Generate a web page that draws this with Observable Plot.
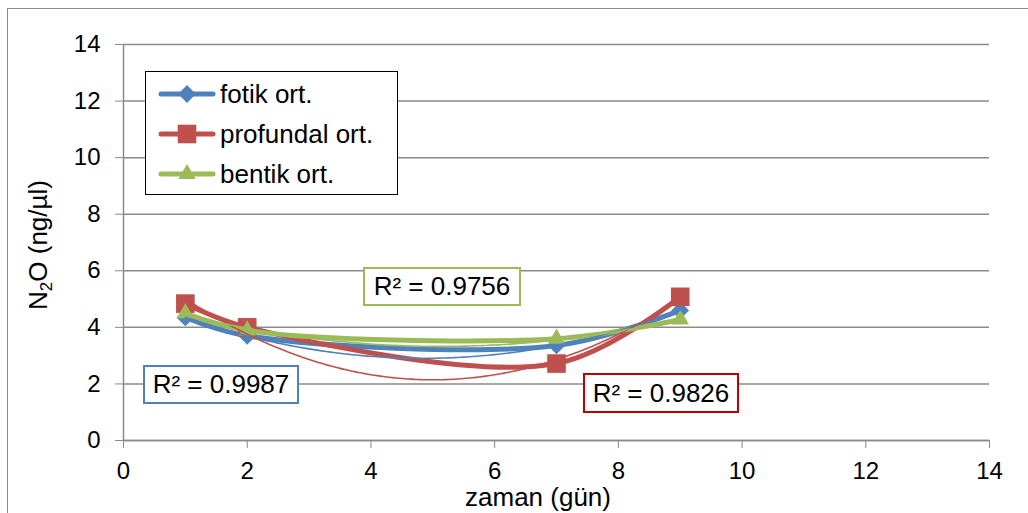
<!DOCTYPE html>
<html><head><meta charset="utf-8">
<script src="https://cdn.jsdelivr.net/npm/d3@7"></script>
<script src="https://cdn.jsdelivr.net/npm/@observablehq/plot@0.6"></script>
<style>
body{margin:0;background:#fff;font-family:"Liberation Sans",Arial,sans-serif;}
#wrap{position:relative;width:1028px;height:513px;overflow:hidden;background:#fff;}
#frame{position:absolute;left:7px;top:8px;width:1030px;height:520px;border:1.5px solid #8c8c8c;box-sizing:border-box;}
.ov{position:absolute;font-family:"Liberation Sans",Arial,sans-serif;color:#000;}
.rbox{position:absolute;background:#fff;box-sizing:border-box;border:2px solid;font-size:26px;display:flex;align-items:center;justify-content:center;}
#legend{position:absolute;left:145px;top:71px;width:253px;height:124px;border:1.5px solid #000;background:#fff;box-sizing:border-box;}
.lrow{position:absolute;left:12px;height:40px;display:flex;align-items:center;font-size:26px;}
</style></head>
<body><div id="wrap"><div id="frame"></div></div>
<script>
// ---- data ----
const days = [1, 2, 7, 9];
const fotik = [4.35, 3.7, 3.36, 4.6];
const profundal = [4.84, 4.0, 2.72, 5.08];
const bentik = [4.5, 3.89, 3.6, 4.28];
const seriesNames = ["fotik ort.", "profundal ort.", "bentik ort."];
const seriesColors = ["#4F81BD", "#C0504D", "#9BBB59"];
const seriesSymbols = ["diamond2", "square", "triangle"];
const symbolR = [8, 10.5, 6.5];
const r2Labels = ["R² = 0.9987", "R² = 0.9826", "R² = 0.9756"];
const r2Border = ["#4F81BD", "#C00000", "#9BBB59"];
const xTicks = [0, 2, 4, 6, 8, 10, 12, 14];
const yTicks = [0, 2, 4, 6, 8, 10, 12, 14];
const xTitle = "zaman (gün)";

const allSeries = [fotik, profundal, bentik];
const rows = [];
allSeries.forEach((vals, i) => days.forEach((d, j) => rows.push({s: seriesNames[i], x: d, y: vals[j]})));

// quadratic least squares trendline (Excel polynomial order 2)
function quadFit(xs, ys) {
  let S = [0,0,0,0,0], T = [0,0,0];
  xs.forEach((x, i) => { for (let k = 0; k < 5; k++) S[k] += x ** k; for (let k = 0; k < 3; k++) T[k] += ys[i] * x ** k; });
  const A = [[S[0],S[1],S[2],T[0]],[S[1],S[2],S[3],T[1]],[S[2],S[3],S[4],T[2]]];
  for (let c = 0; c < 3; c++) {
    for (let r = c + 1; r < 3; r++) { const f = A[r][c] / A[c][c]; for (let k = c; k < 4; k++) A[r][k] -= f * A[c][k]; }
  }
  const b = [0,0,0];
  for (let r = 2; r >= 0; r--) { let s = A[r][3]; for (let k = r + 1; k < 3; k++) s -= A[r][k] * b[k]; b[r] = s / A[r][r]; }
  return b;
}
const trend = [];
allSeries.forEach((vals, i) => {
  const b = quadFit(days, vals);
  const x0 = d3.min(days), x1 = d3.max(days);
  d3.range(x0, x1 + 0.001, 0.05).forEach(x => trend.push({s: seriesNames[i], x, y: b[0] + b[1]*x + b[2]*x*x}));
});

const marks = [
  Plot.gridY(yTicks, {stroke: "#8a8a8a", strokeOpacity: 1, strokeWidth: 1.5}),
  Plot.ruleX([0], {stroke: "#8a8a8a", strokeWidth: 1.5}),
  Plot.ruleY([0], {stroke: "#8a8a8a", strokeWidth: 1.5}),
  Plot.axisX({ticks: xTicks, tickSize: 8, tickPadding: 13, stroke: "#8a8a8a", fontSize: 24, label: null, tickFormat: d => d}),
  Plot.axisY({ticks: yTicks, tickSize: 8, tickPadding: 15, stroke: "#8a8a8a", fontSize: 24, label: null, tickFormat: d => d})
];
seriesNames.forEach((name, i) => {
  const data = rows.filter(r => r.s === name);
  marks.push(Plot.line(data, {x: "x", y: "y", stroke: seriesColors[i], strokeWidth: 5, curve: "catmull-rom"}));
  marks.push(Plot.dot(data, {x: "x", y: "y", fill: seriesColors[i], stroke: "none", symbol: seriesSymbols[i], r: symbolR[i]}));
});
seriesNames.forEach((name, i) => {
  marks.push(Plot.line(trend.filter(r => r.s === name), {x: "x", y: "y", stroke: seriesColors[i], strokeWidth: 1.6}));
});

const chart = Plot.plot({
  width: 1028, height: 513,
  marginLeft: 123, marginRight: 39, marginTop: 44, marginBottom: 73,
  x: {domain: [0, 14]},
  y: {domain: [0, 14]},
  style: {fontFamily: "'Liberation Sans', Arial, sans-serif", color: "#000", background: "transparent", overflow: "visible"},
  marks
});
chart.style.position = "absolute"; chart.style.left = "0px"; chart.style.top = "0px";
const wrap = document.getElementById("wrap");
wrap.appendChild(chart);
chart.querySelectorAll("text").forEach(t => t.setAttribute("fill", "#000"));

// axis titles
const xt = document.createElement("div");
xt.className = "ov"; xt.textContent = xTitle;
Object.assign(xt.style, {left: "538px", top: "497px", transform: "translate(-50%,-50%)", fontSize: "26px", whiteSpace: "nowrap"});
wrap.appendChild(xt);
const yt = document.createElement("div");
yt.className = "ov"; yt.innerHTML = 'N<sub style="font-size:17px;vertical-align:-5px">2</sub>O (ng/µl)';
Object.assign(yt.style, {left: "42px", top: "245px", transform: "translate(-50%,-50%) rotate(-90deg)", fontSize: "26px", whiteSpace: "nowrap", lineHeight: "26px"});
wrap.appendChild(yt);

// R² boxes
const r2Pos = [{l:143,t:365,w:156,h:39},{l:583,t:373,w:156,h:40},{l:363,t:267,w:158,h:39}];
r2Labels.forEach((lab, i) => {
  const b = document.createElement("div");
  b.className = "rbox ov"; b.textContent = lab;
  Object.assign(b.style, {left: r2Pos[i].l+"px", top: r2Pos[i].t+"px", width: r2Pos[i].w+"px", height: r2Pos[i].h+"px", borderColor: r2Border[i]});
  wrap.appendChild(b);
});

// legend
const leg = document.createElement("div");
leg.id = "legend";
const symPaths = seriesSymbols.map((s, i) => {
  const t = {diamond2: d3.symbolDiamond2, square: d3.symbolSquare, triangle: d3.symbolTriangle}[s];
  return d3.symbol(t, Math.PI * symbolR[i] ** 2)();
});
seriesNames.forEach((name, i) => {
  const row = document.createElement("div");
  row.className = "lrow";
  row.style.top = (2 + i * 40) + "px";
  row.innerHTML = `<svg width="58" height="30" style="margin-right:4px"><line x1="3" y1="15" x2="55" y2="15" stroke="${seriesColors[i]}" stroke-width="5" stroke-linecap="round"/><path transform="translate(29,15)" d="${symPaths[i]}" fill="${seriesColors[i]}"/></svg><span>${name}</span>`;
  leg.appendChild(row);
});
wrap.appendChild(leg);
</script></body></html>
